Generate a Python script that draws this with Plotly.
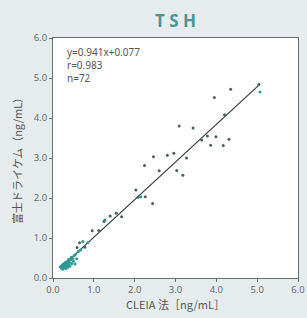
import plotly.graph_objects as go

# Dark-coloured measurement points (CLEIA x, Fuji DRI-CHEM y)
dark_x = [5.04, 4.35, 3.95, 4.20, 3.09, 3.43, 3.64, 3.78, 3.99, 3.86, 4.17, 4.31,
          2.46, 2.80, 2.96, 3.27, 2.24, 2.60, 3.03, 3.18, 2.03, 2.08, 2.26, 2.44,
          1.25, 1.40, 1.55, 1.68, 0.96, 1.12, 0.65, 0.78, 0.59]
dark_y = [4.84, 4.72, 4.51, 4.08, 3.80, 3.75, 3.45, 3.55, 3.53, 3.32, 3.31, 3.47,
          3.03, 3.07, 3.12, 3.00, 2.81, 2.68, 2.69, 2.57, 2.20, 2.02, 2.03, 1.86,
          1.41, 1.55, 1.62, 1.53, 1.18, 1.19, 0.88, 0.77, 0.76]

# Teal-coloured measurement points
teal_x = [5.07, 2.15, 1.27, 0.73,
          0.18, 0.20, 0.21, 0.22, 0.23, 0.24, 0.25, 0.26, 0.27, 0.28, 0.29, 0.30,
          0.31, 0.32, 0.33, 0.34, 0.35, 0.36, 0.37, 0.38, 0.39, 0.40, 0.42, 0.43,
          0.45, 0.46, 0.48, 0.50, 0.52, 0.54, 0.56, 0.58, 0.62, 0.68, 0.85]
teal_y = [4.65, 2.03, 1.45, 0.91,
          0.28, 0.25, 0.30, 0.27, 0.33, 0.22, 0.29, 0.35, 0.26, 0.31, 0.38, 0.28,
          0.33, 0.24, 0.40, 0.30, 0.36, 0.27, 0.43, 0.33, 0.47, 0.38, 0.30, 0.45,
          0.52, 0.36, 0.49, 0.42, 0.56, 0.35, 0.60, 0.48, 0.66, 0.70, 0.88]

# Regression line (stated fit)
slope = 0.941
intercept = 0.077
line_x = [0.2, 5.05]
line_y = [slope * v + intercept for v in line_x]

stats_lines = ["y=0.941x+0.077", "r=0.983", "n=72"]

tick_vals = [0, 1, 2, 3, 4, 5, 6]
tick_text = ["0.0", "1.0", "2.0", "3.0", "4.0", "5.0", "6.0"]

fig = go.Figure()
fig.add_trace(go.Scatter(x=line_x, y=line_y, mode="lines",
                         line=dict(color="#2f3a38", width=1.2), showlegend=False))
fig.add_trace(go.Scatter(x=teal_x, y=teal_y, mode="markers",
                         marker=dict(color="#2a9a96", size=3), showlegend=False))
fig.add_trace(go.Scatter(x=dark_x, y=dark_y, mode="markers",
                         marker=dict(color="#4b5f5b", size=3), showlegend=False))

axis_common = dict(
    range=[0, 6], tickvals=tick_vals, ticktext=tick_text, automargin=False,
    showgrid=False, zeroline=False, showline=True, mirror=True,
    linecolor="#6b6f70", linewidth=1, ticks="outside", ticklen=3,
    ticklabeloverflow="allow",
    tickcolor="#6b6f70", tickfont=dict(family="Noto Sans", size=9.5, color="#6a6a6a"),
)

fig.update_layout(
    width=307, height=318,
    margin=dict(l=53, r=9, t=38, b=40),
    paper_bgcolor="#e6ecee", plot_bgcolor="#ffffff",
    title=dict(text="<b>T S H</b>", x=0.572, xanchor="center", y=0.935, yanchor="middle",
               font=dict(family="Noto Sans", size=17, color="#4a958c")),
    xaxis=dict(**axis_common,
               title=dict(text="CLEIA 法［ng/mL］", standoff=2,
                          font=dict(family="Noto Sans CJK JP", size=11, color="#555"))),
    yaxis=dict(**axis_common,
               title=dict(text="富士ドライケム（ng/mL）", standoff=8,
                          font=dict(family="Noto Sans CJK JP", size=11, color="#555"))),
)

fig.add_annotation(text="<br>".join(stats_lines), xref="paper", yref="paper",
                   x=0.05, y=0.98, xanchor="left", yanchor="top", align="left",
                   showarrow=False,
                   font=dict(family="Noto Sans", size=10, color="#555"))

fig.write_html("out.html", config={"displayModeBar": False},
               post_script="document.body.style.margin='0';document.body.style.overflow='hidden';")
